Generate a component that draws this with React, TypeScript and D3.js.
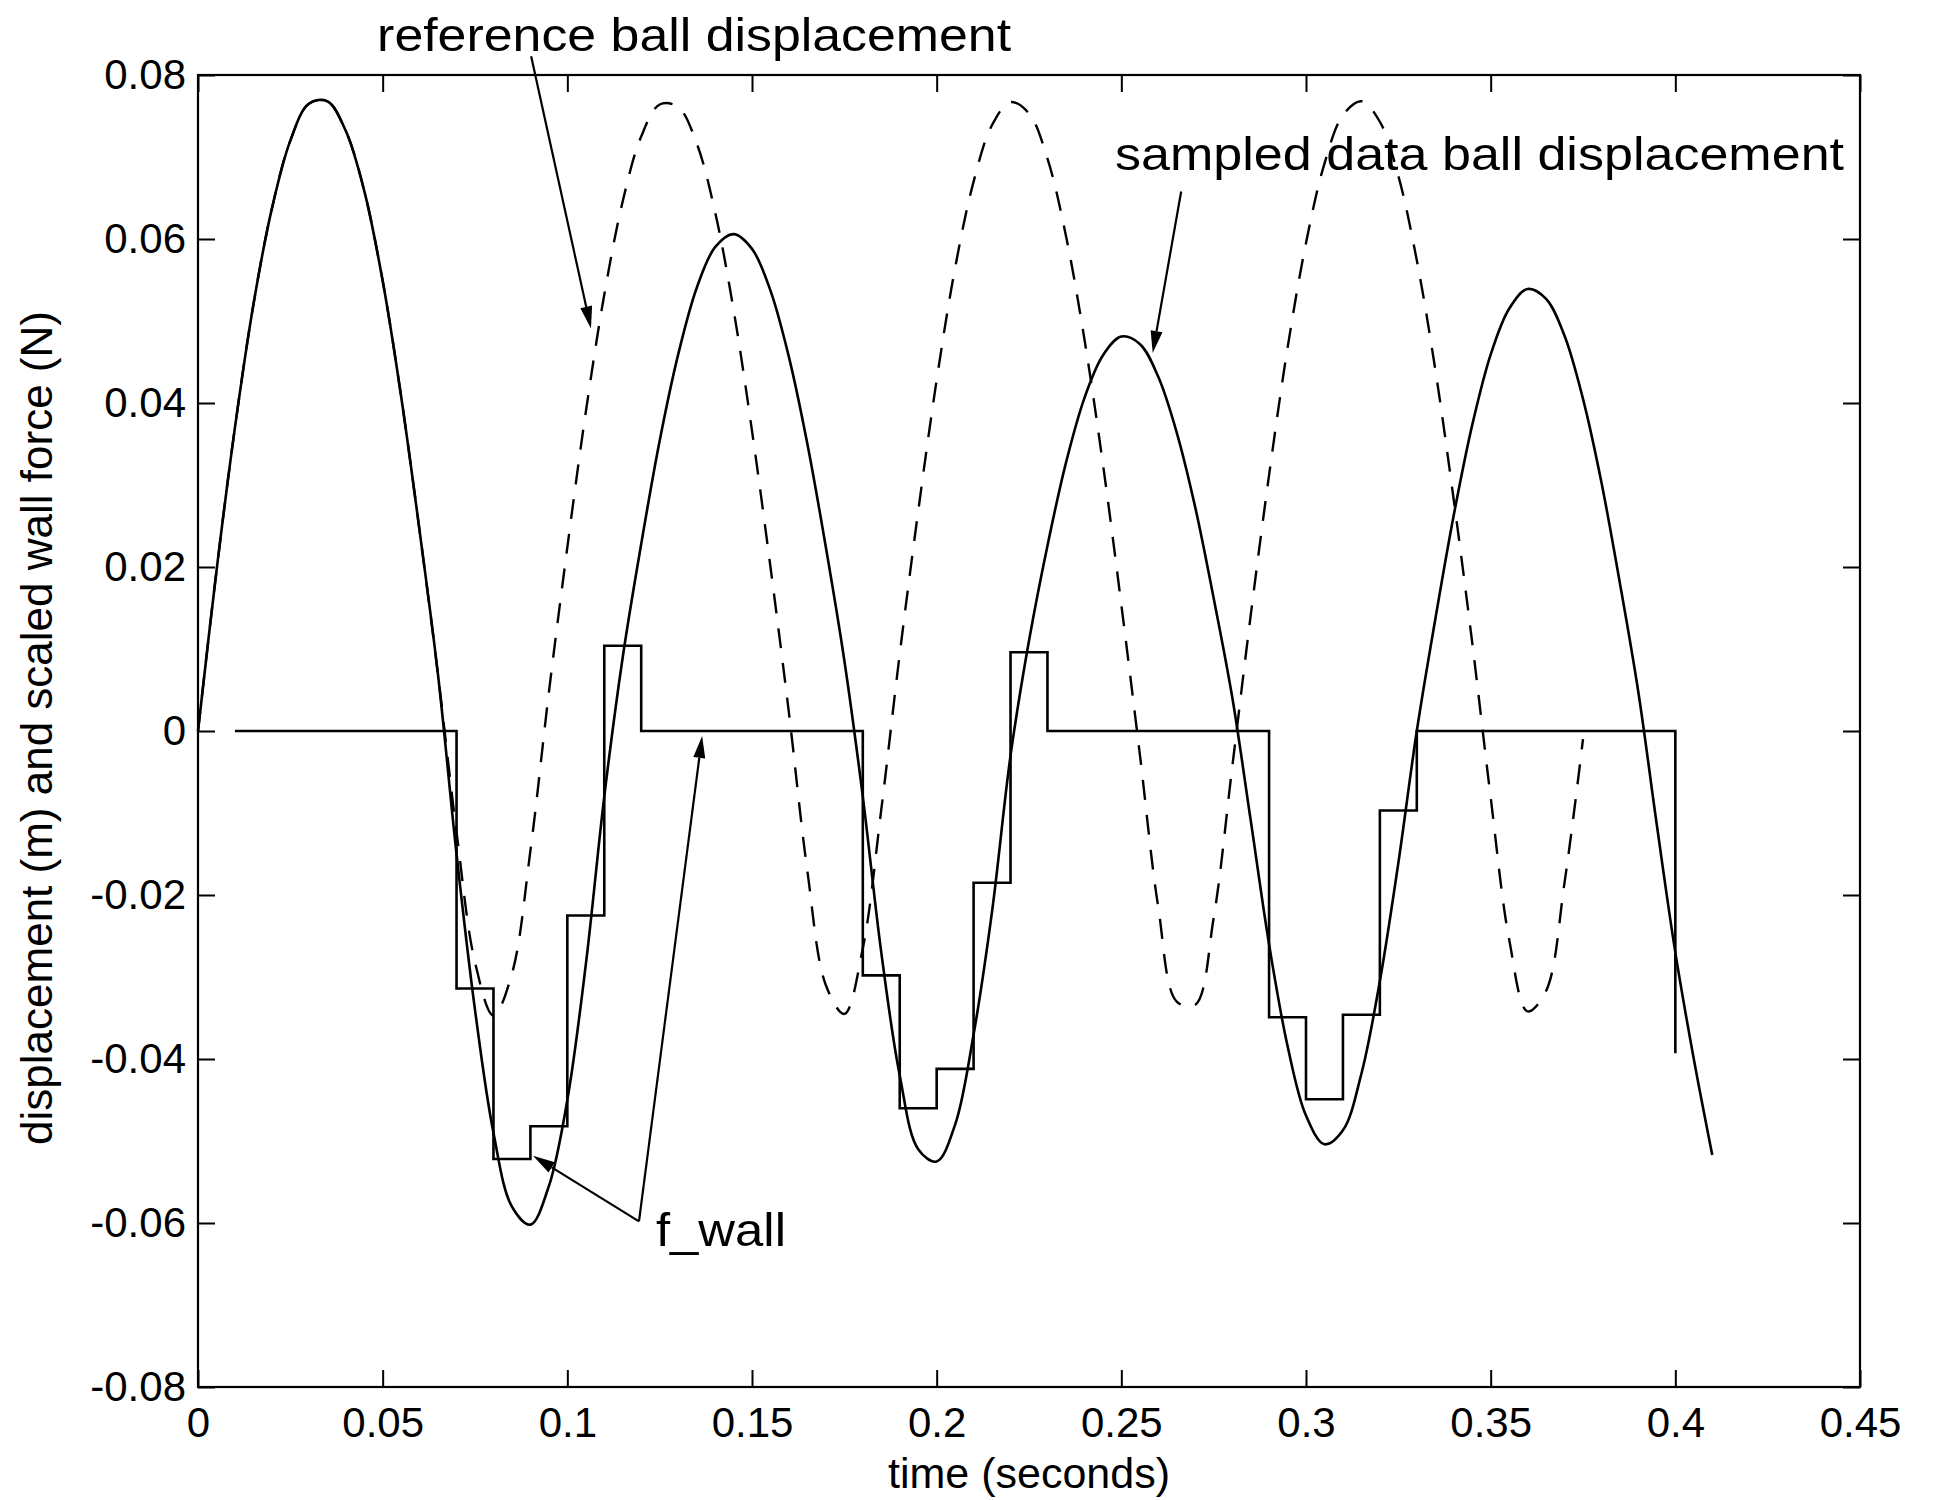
import React, { useEffect, useRef } from 'react';
import * as d3 from 'd3';

// time grid (s) shared by both displacement traces
const sampleTimes = [
  0, 0.005, 0.01, 0.015, 0.02, 0.025, 0.03, 0.035, 0.04, 0.045,
  0.05, 0.055, 0.06, 0.065, 0.07, 0.075, 0.08, 0.085, 0.09, 0.095,
  0.1, 0.105, 0.11, 0.115, 0.12, 0.125, 0.13, 0.135, 0.14, 0.145,
  0.15, 0.155, 0.16, 0.165, 0.17, 0.175, 0.18, 0.185, 0.19, 0.195,
  0.2, 0.205, 0.21, 0.215, 0.22, 0.225, 0.23, 0.235, 0.24, 0.245,
  0.25, 0.255, 0.26, 0.265, 0.27, 0.275, 0.28, 0.285, 0.29, 0.295,
  0.3, 0.305, 0.31, 0.315, 0.32, 0.325, 0.33, 0.335, 0.34, 0.345,
  0.35, 0.355, 0.36, 0.365, 0.37, 0.375, 0.38, 0.385, 0.39, 0.395,
  0.4, 0.405, 0.41,
];

// sampled data ball displacement (solid)
const sampledDisplacement = [
  0, 0.0195, 0.037, 0.052, 0.0637, 0.072, 0.0765, 0.0768, 0.0732, 0.0659,
  0.0549, 0.0408, 0.0244, 0.0068, -0.015, -0.034, -0.049, -0.058, -0.0602, -0.0555,
  -0.045, -0.0285, -0.008, 0.009, 0.0228, 0.0354, 0.0459, 0.054, 0.059, 0.0606,
  0.0588, 0.0537, 0.0456, 0.035, 0.0224, 0.0086, -0.008, -0.027, -0.042, -0.051,
  -0.0525, -0.048, -0.037, -0.022, -0.003, 0.011, 0.0226, 0.0327, 0.0406, 0.0458,
  0.0481, 0.0472, 0.0432, 0.0364, 0.0273, 0.0162, 0.0042, -0.0108, -0.026, -0.0384,
  -0.0469, -0.0504, -0.0487, -0.0418, -0.0305, -0.0161, 0, 0.0136, 0.0263, 0.0373,
  0.0459, 0.0515, 0.0539, 0.0527, 0.0482, 0.0405, 0.0303, 0.018, 0.0047, -0.0115,
  -0.027, -0.04, -0.0517,
];

// reference ball displacement (dashed), same grid up to 0.375 s
const referenceDisplacement = [
  0, 0.0195, 0.037, 0.052, 0.0637, 0.072, 0.0765, 0.0768, 0.0732, 0.0659,
  0.0549, 0.0408, 0.0244, 0.0068, -0.0123, -0.0282, -0.0347, -0.0296, -0.0146, 0.0047,
  0.0224, 0.0389, 0.0532, 0.0646, 0.0725, 0.0764, 0.0761, 0.0717, 0.0633, 0.0514,
  0.0366, 0.02, 0.0022, -0.0171, -0.031, -0.0345, -0.0265, -0.0096, 0.0094, 0.0268,
  0.0428, 0.0565, 0.067, 0.0739, 0.0767, 0.0753, 0.0698, 0.0604, 0.0478, 0.0326,
  0.0154, -0.0028, -0.0215, -0.033, -0.0334, -0.0228, -0.0045, 0.014, 0.0312, 0.0467,
  0.0595, 0.0692, 0.0751, 0.0768, 0.0743, 0.0677, 0.0574, 0.0441, 0.0282, 0.0108,
  -0.0081, -0.0254, -0.0342, -0.0317, -0.0185, -0.001,
];

// scaled wall force, held over each 0.01 s sample
const wallTimes = [
  0.01, 0.02, 0.03, 0.04, 0.05, 0.06, 0.07, 0.08, 0.09, 0.1,
  0.11, 0.12, 0.13, 0.14, 0.15, 0.16, 0.17, 0.18, 0.19, 0.2,
  0.21, 0.22, 0.23, 0.24, 0.25, 0.26, 0.27, 0.28, 0.29, 0.3,
  0.31, 0.32, 0.33, 0.34, 0.35, 0.36, 0.37, 0.38, 0.39, 0.4,
];
const wallForce = [
  0, 0, 0, 0, 0, 0, -0.0314, -0.0522, -0.0482, -0.0225,
  0.0104, 0, 0, 0, 0, 0, 0, -0.0298, -0.046, -0.0412,
  -0.0185, 0.0096, 0, 0, 0, 0, 0, 0, -0.0349, -0.0449,
  -0.0346, -0.0097, 0, 0, 0, 0, 0, 0, 0, -0.0393,
];

const xTicks = [0, 0.05, 0.1, 0.15, 0.2, 0.25, 0.3, 0.35, 0.4, 0.45];
const yTicks = [-0.08, -0.06, -0.04, -0.02, 0, 0.02, 0.04, 0.06, 0.08];

const FONT = '"Liberation Sans", Arial, Helvetica, sans-serif';

const App = () => {
  const svgRef = useRef<SVGSVGElement>(null);

  useEffect(() => {
    const width = 1937;
    const height = 1500;
    const margin = { top: 75, right: 77, bottom: 113, left: 198 };
    const innerW = width - margin.left - margin.right;
    const innerH = height - margin.top - margin.bottom;
    const tick = 17;

    const svg = d3.select(svgRef.current);
    svg.selectAll('*').remove();

    const g = svg.append('g')
      .attr('transform', `translate(${margin.left},${margin.top})`);

    const x = d3.scaleLinear().domain([0, 0.45]).range([0, innerW]);
    const y = d3.scaleLinear().domain([-0.08, 0.08]).range([innerH, 0]);

    const fmt = (d: number) => String(+d.toFixed(2)).replace('\u2212', '-');

    // axes, ticks pointing inward on all four sides
    const styleAxis = (sel: any) => {
      sel.select('.domain').remove();
      sel.selectAll('line').attr('stroke', '#000').attr('stroke-width', 2);
      sel.selectAll('text')
        .attr('fill', '#000')
        .style('font-family', FONT)
        .style('font-size', '42px');
    };

    g.append('g')
      .attr('transform', `translate(0,${innerH})`)
      .call(d3.axisBottom(x).tickValues(xTicks).tickFormat(fmt as any).tickSizeInner(-tick).tickSizeOuter(0).tickPadding(20))
      .call(styleAxis);

    g.append('g')
      .call(d3.axisTop(x).tickValues(xTicks).tickFormat(() => '').tickSizeInner(-tick).tickSizeOuter(0))
      .call(styleAxis);

    g.append('g')
      .call(d3.axisLeft(y).tickValues(yTicks).tickFormat(fmt as any).tickSizeInner(-tick).tickSizeOuter(0).tickPadding(12))
      .call(styleAxis);

    g.append('g')
      .attr('transform', `translate(${innerW},0)`)
      .call(d3.axisRight(y).tickValues(yTicks).tickFormat(() => '').tickSizeInner(-tick).tickSizeOuter(0))
      .call(styleAxis);

    g.append('rect')
      .attr('width', innerW)
      .attr('height', innerH)
      .attr('fill', 'none')
      .attr('stroke', '#000')
      .attr('stroke-width', 2.2);

    const smooth = d3.line<[number, number]>()
      .x(d => x(d[0]))
      .y(d => y(d[1]))
      .curve(d3.curveCatmullRom.alpha(0.5));

    const sampled: [number, number][] = sampledDisplacement.map((v, i) => [sampleTimes[i], v]);
    const reference: [number, number][] = referenceDisplacement.map((v, i) => [sampleTimes[i], v]);
    const wall: [number, number][] = wallForce.map((v, i) => [wallTimes[i], v]);

    g.append('path')
      .datum(reference)
      .attr('fill', 'none')
      .attr('stroke', '#000')
      .attr('stroke-width', 2.4)
      .attr('stroke-dasharray', '20,15')
      .attr('d', smooth);

    g.append('path')
      .datum(sampled)
      .attr('fill', 'none')
      .attr('stroke', '#000')
      .attr('stroke-width', 2.6)
      .attr('d', smooth);

    const step = d3.line<[number, number]>()
      .x(d => x(d[0]))
      .y(d => y(d[1]))
      .curve(d3.curveStepAfter);

    g.append('path')
      .datum(wall)
      .attr('fill', 'none')
      .attr('stroke', '#000')
      .attr('stroke-width', 2.6)
      .attr('d', step);

    // annotations (data units)
    const arrow = (from: number[], to: number[]) => {
      const x0 = x(from[0]), y0 = y(from[1]);
      const x1 = x(to[0]), y1 = y(to[1]);
      const ang = Math.atan2(y1 - y0, x1 - x0);
      const len = 22, half = 6;
      const bx = x1 - len * Math.cos(ang), by = y1 - len * Math.sin(ang);
      g.append('line')
        .attr('x1', x0).attr('y1', y0)
        .attr('x2', bx).attr('y2', by)
        .attr('stroke', '#000')
        .attr('stroke-width', 2.2);
      g.append('polygon')
        .attr('points', [
          [x1, y1],
          [bx + half * Math.sin(ang), by - half * Math.cos(ang)],
          [bx - half * Math.sin(ang), by + half * Math.cos(ang)],
        ].map(p => p.join(',')).join(' '))
        .attr('fill', '#000');
    };

    const label = (text: string, at: number[], len: number) => {
      g.append('text')
        .attr('x', x(at[0]))
        .attr('y', y(at[1]))
        .attr('textLength', len)
        .attr('lengthAdjust', 'spacingAndGlyphs')
        .style('font-family', FONT)
        .style('font-size', '46px')
        .attr('fill', '#000')
        .text(text);
    };

    label('reference ball displacement', [0.0485, 0.0829], 634);
    arrow([0.0902, 0.0823], [0.1064, 0.0491]);

    label('sampled data ball displacement', [0.2483, 0.0684], 729);
    arrow([0.2662, 0.0658], [0.2585, 0.0461]);

    label('f_wall', [0.124, -0.0628], 130);
    arrow([0.1194, -0.0598], [0.0907, -0.0518]);
    arrow([0.1194, -0.0598], [0.1365, -0.0006]);

    // axis titles
    svg.append('text')
      .attr('x', margin.left + innerW / 2)
      .attr('y', 1488)
      .attr('text-anchor', 'middle')
      .style('font-family', FONT)
      .style('font-size', '43px')
      .text('time (seconds)');

    svg.append('text')
      .attr('transform', 'translate(52,728) rotate(-90)')
      .attr('text-anchor', 'middle')
      .style('font-family', FONT)
      .style('font-size', '44px')
      .text('displacement (m) and scaled wall force (N)');
  }, []);

  return (
    <svg
      ref={svgRef}
      width={1937}
      height={1500}
      style={{ position: 'absolute', left: 0, top: 0, background: '#fff' }}
    />
  );
};

export default App;
